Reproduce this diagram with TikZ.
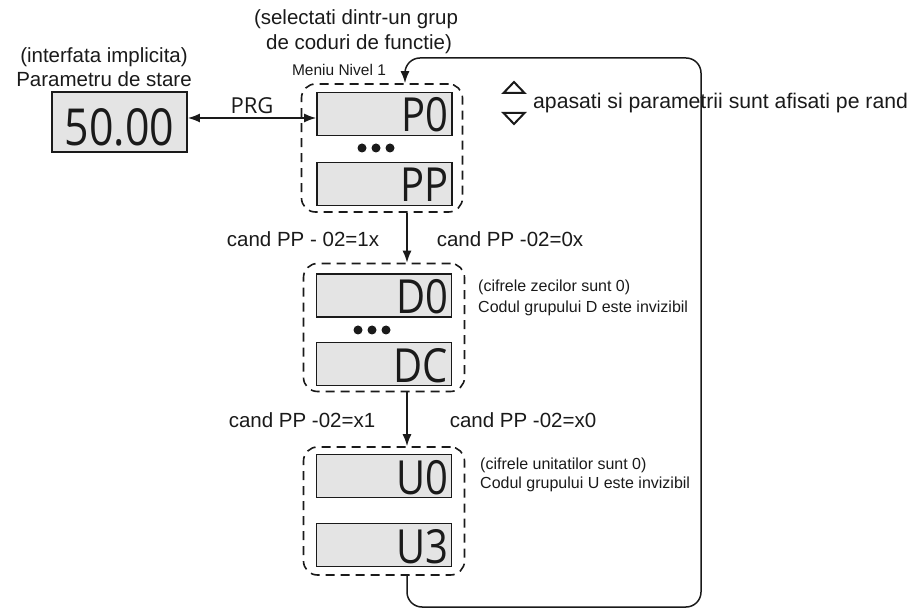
\documentclass[tikz,border=0pt]{standalone}
\usepackage{fontspec}
\setmainfont{Liberation Sans}
\newfontfamily\dispfont{Open Sans}
\usetikzlibrary{arrows.meta,shapes.geometric}
\definecolor{lcdgray}{HTML}{E4E4E4}
\definecolor{ink}{HTML}{1A1A1A}
\begin{document}
\begin{tikzpicture}[x=1pt,y=-1pt,
  lcd/.style={draw=ink, line width=1.7pt, fill=lcdgray, minimum width=135pt, minimum height=43pt, inner sep=0pt},
  grp/.style={draw=ink, line width=1.6pt, dash pattern=on 9pt off 6pt, rounded corners=14pt, minimum width=161pt, minimum height=128pt, inner sep=0pt},
  lcdtxt/.style={font=\dispfont\fontsize{47}{47}\selectfont, inner sep=0pt, anchor=base east, text=ink},
  lbl/.style={font=\fontsize{20.5}{22}\selectfont, inner sep=0pt, text=ink},
  note/.style={font=\fontsize{16}{18}\selectfont, inner sep=0pt, anchor=west, text=ink},
  dot/.style={circle, fill=ink, minimum size=9pt, inner sep=0pt},
  arr/.style={draw=ink, line width=1.5pt, -{Latex[length=12pt,width=9pt]}},
  key/.style={draw=ink, line width=2pt, line join=miter}
]
\useasboundingbox (0,0) rectangle (916,609);

% top labels
\node[lbl] (sel1) at (356,19) {(selectati dintr-un grup};
\node[lbl] (sel2) at (359,44) {de coduri de functie)};
\node[lbl] (imp) at (104,57) {(interfata implicita)};
\node[lbl] (par) at (104,79) {Parametru de stare};
\node[font=\fontsize{15.5}{17}\selectfont, inner sep=0pt, text=ink] (men) at (339,70) {Meniu Nivel 1};

% status display
\node[lcd, minimum height=60pt] (S) at (119.5,122) {};
\node[font=\dispfont\fontsize{51}{51}\selectfont, inner sep=0pt, anchor=base, text=ink] (St) at ([yshift=7pt]S.south) {\scalebox{0.84}[1]{50.00}};

% groups
\node[grp] (gP) at (382,148) {};
\node[grp] (gD) at (384,327.5) {};
\node[grp] (gU) at (384,511) {};

% displays
\node[lcd] (P0) at (384.5,114) {};
\node[lcd] (PP) at (384.5,184) {};
\node[lcd] (D0) at (384,295.5) {};
\node[lcd] (DC) at (384,364) {};
\node[lcd] (U0) at (384,476) {};
\node[lcd] (U3) at (384,545) {};
\node[lcdtxt] (P0t) at ([xshift=-4pt,yshift=5pt]P0.south east) {\scalebox{0.85}[1]{P0}};
\node[lcdtxt] (PPt) at ([xshift=-4pt,yshift=5pt]PP.south east) {\scalebox{0.85}[1]{PP}};
\node[lcdtxt] (D0t) at ([xshift=-4pt,yshift=4pt]D0.south east) {\scalebox{0.85}[1]{D0}};
\node[lcdtxt] (DCt) at ([xshift=-4pt,yshift=4pt]DC.south east) {\scalebox{0.85}[1]{DC}};
\node[lcdtxt] (U0t) at ([xshift=-4pt,yshift=4pt]U0.south east) {\scalebox{0.85}[1]{U0}};
\node[lcdtxt] (U3t) at ([xshift=-4pt,yshift=4pt]U3.south east) {\scalebox{0.85}[1]{U3}};

% dots
\node[dot] (pd1) at (362,148) {};
\node[dot] (pd2) at (376,148) {};
\node[dot] (pd3) at (390,148) {};
\node[dot] (dd1) at (358,330) {};
\node[dot] (dd2) at (372,330) {};
\node[dot] (dd3) at (386,330) {};

% PRG
\node[font=\dispfont\fontsize{22}{22}\selectfont, inner sep=0pt, text=ink] (prg) at (252,106) {PRG};
\draw[draw=ink, line width=1.5pt, {Latex[length=12pt,width=9pt]}-{Latex[length=12pt,width=9pt]}] ([yshift=4pt]S.east) -- ([yshift=4pt]S.east -| P0.west);

% up/down keys
\draw[key] (503.5,93) -- (514,82) -- (524.5,93) -- cycle;
\draw[key] (503.5,113) -- (514,124) -- (524.5,113) -- cycle;
\node[lbl, anchor=west, font=\fontsize{21.2}{23}\selectfont] (aps) at (533,103) {apasati si parametrii sunt afisati pe rand};

% vertical transitions
\coordinate (ax) at (407,0);
\draw[arr] (gP.south -| ax) -- (gD.north -| ax);
\draw[arr] (gD.south -| ax) -- (gU.north -| ax);
\node[lbl] (c1) at (303,239) {cand PP - 02=1x};
\node[lbl] (c2) at (510,239) {cand PP -02=0x};
\node[lbl] (c3) at (302,420) {cand PP -02=x1};
\node[lbl] (c4) at (523,420) {cand PP -02=x0};

% notes
\node[note] (n1) at (478,287) {(cifrele zecilor sunt 0)};
\node[note] (n2) at (478,308) {Codul grupului D este invizibil};
\node[note] (n3) at (480,465) {(cifrele unitatilor sunt 0)};
\node[note] (n4) at (480,484) {Codul grupului U este invizibil};

% loop back
\coordinate (bl) at (407,607);
\coordinate (br) at (701,607);
\coordinate (tr) at (701,58);
\coordinate (tl) at (405,58);
\draw[arr, rounded corners=15pt] (gU.south -| ax) -- (bl) -- (br) -- (tr) -- (tl) -- (gP.north -| tl);
\end{tikzpicture}
\end{document}
